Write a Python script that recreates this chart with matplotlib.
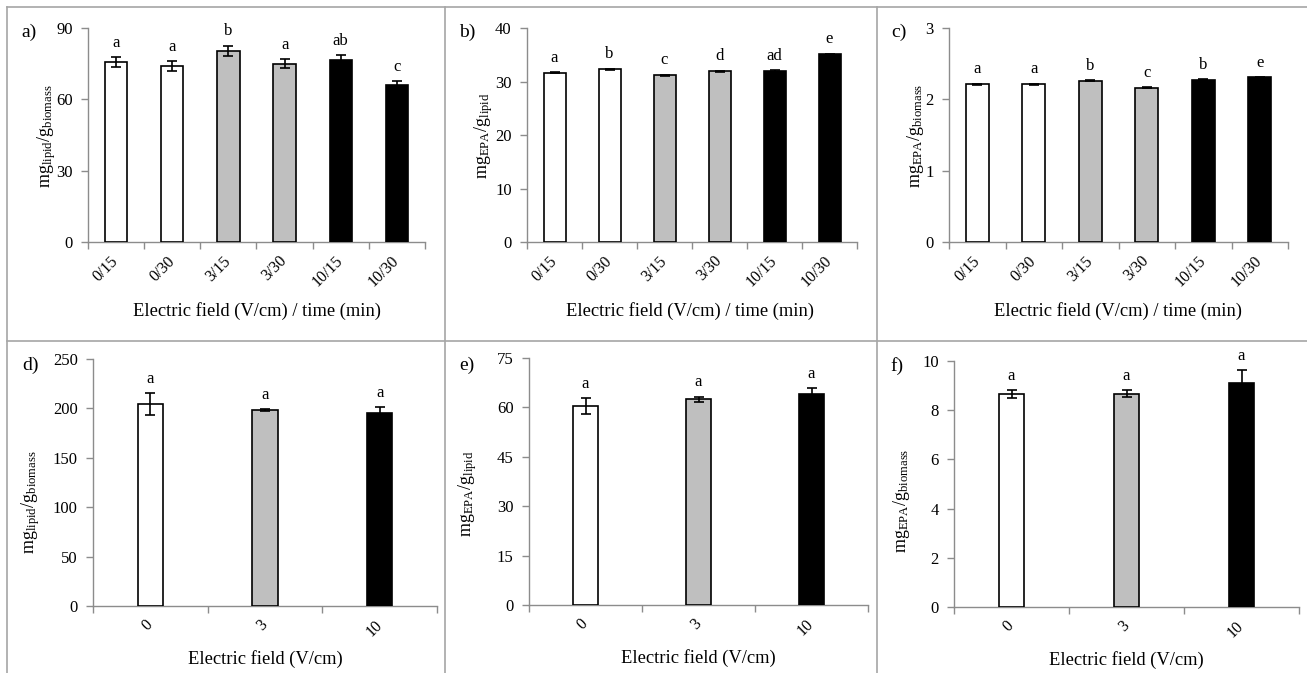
import matplotlib
matplotlib.use("Agg")
import matplotlib.pyplot as plt
from matplotlib.lines import Line2D
import numpy as np

W, H = 1307, 673
plt.rcParams['font.family'] = ['Liberation Serif', 'DejaVu Serif']
plt.rcParams['mathtext.fontset'] = 'custom'
plt.rcParams['mathtext.rm'] = 'Liberation Serif'
plt.rcParams['mathtext.it'] = 'Liberation Serif:italic'

# ---------------- data ----------------
time_cats = ["0/15", "0/30", "3/15", "3/30", "10/15", "10/30"]
field_cats = ["0", "3", "10"]

lipid_time = [75.8, 74.0, 80.5, 75.0, 76.7, 66.0]
lipid_time_err = [2.0, 2.0, 2.1, 2.0, 1.8, 1.6]
lipid_time_let = ["a", "a", "b", "a", "ab", "c"]

epa_lipid_time = [31.6, 32.3, 31.2, 31.9, 31.9, 35.1]
epa_lipid_time_err = [0.1, 0.1, 0.1, 0.15, 0.2, 0.1]
epa_lipid_time_let = ["a", "b", "c", "d", "ad", "e"]

epa_bio_time = [2.21, 2.21, 2.26, 2.165, 2.275, 2.31]
epa_bio_time_err = [0.01, 0.01, 0.005, 0.01, 0.01, 0.005]
epa_bio_time_let = ["a", "a", "b", "c", "b", "e"]

lipid_field = [204.5, 198.0, 195.5]
lipid_field_err = [11.0, 1.0, 6.0]
lipid_field_let = ["a", "a", "a"]

epa_lipid_field = [60.5, 62.5, 64.0]
epa_lipid_field_err = [2.4, 0.8, 1.9]
epa_lipid_field_let = ["a", "a", "a"]

epa_bio_field = [8.67, 8.67, 9.11]
epa_bio_field_err = [0.16, 0.15, 0.51]
epa_bio_field_let = ["a", "a", "a"]

time_colors = ["white", "white", "#BFBFBF", "#BFBFBF", "black", "black"]
field_colors = ["white", "#BFBFBF", "black"]

AX_GRAY = "#8C8C8C"
BORDER = "#A6A6A6"

fig = plt.figure(figsize=(W / 100, H / 100), dpi=100)


def frac(x, y):
    return x / W, 1 - y / H


def rect(x0, y0, x1, y1):
    return [x0 / W, 1 - y1 / H, (x1 - x0) / W, (y1 - y0) / H]


ylab_lipid_bio = r"mg$_{\mathrm{lipid}}$/g$_{\mathrm{biomass}}$"
ylab_epa_lipid = r"mg$_{\mathrm{EPA}}$/g$_{\mathrm{lipid}}$"
ylab_epa_bio = r"mg$_{\mathrm{EPA}}$/g$_{\mathrm{biomass}}$"

panels = [
    ((88, 28, 425, 242), time_cats, lipid_time, lipid_time_err, lipid_time_let, time_colors,
     90, 30, "a)", (29, 32), ylab_lipid_bio, (47, 136), "Electric field (V/cm) / time (min)", (257, 311), 0.40),
    ((527, 28, 857, 242), time_cats, epa_lipid_time, epa_lipid_time_err, epa_lipid_time_let, time_colors,
     40, 10, "b)", (467, 32), ylab_epa_lipid, (484, 136), "Electric field (V/cm) / time (min)", (690, 311), 0.40),
    ((949, 28, 1288, 242), time_cats, epa_bio_time, epa_bio_time_err, epa_bio_time_let, time_colors,
     3, 1, "c)", (899, 32), ylab_epa_bio, (916, 136), "Electric field (V/cm) / time (min)", (1118, 311), 0.40),
    ((93, 359, 437, 606), field_cats, lipid_field, lipid_field_err, lipid_field_let, field_colors,
     250, 50, "d)", (30, 365), ylab_lipid_bio, (31, 502), "Electric field (V/cm)", (265, 659), 0.22),
    ((529, 358, 868, 605), field_cats, epa_lipid_field, epa_lipid_field_err, epa_lipid_field_let, field_colors,
     75, 15, "e)", (467, 365), ylab_epa_lipid, (468, 494), "Electric field (V/cm)", (698, 658), 0.22),
    ((954, 361, 1299, 607), field_cats, epa_bio_field, epa_bio_field_err, epa_bio_field_let, field_colors,
     10, 2, "f)", (897, 366), ylab_epa_bio, (901, 501), "Electric field (V/cm)", (1126, 660), 0.22),
]

for (r, cats, vals, errs, lets, cols, ymax, ystep, tag, tagpos, ylab, ylabpos, xlab, xlabpos, bw) in panels:
    ax = fig.add_axes(rect(*r))
    n = len(cats)
    x = np.arange(n)
    ax.bar(x, vals, width=bw, color=cols, edgecolor="black", linewidth=1.2, zorder=2)
    ax.errorbar(x, vals, yerr=errs, fmt="none", ecolor="black", elinewidth=1.2,
                capsize=3.3, capthick=1.2, zorder=3)
    for xi, v, e, l in zip(x, vals, errs, lets):
        ax.annotate(l, (xi, v + e), xytext=(0, 4.5), textcoords="offset points",
                    ha="center", va="bottom", fontsize=12)
    ax.set_xlim(-0.5, n - 0.5)
    ax.set_ylim(0, ymax)
    ax.set_yticks(np.arange(0, ymax + ystep / 2, ystep))
    ax.set_xticks(x)
    ax.set_xticklabels(cats, rotation=45, ha="right", va="center", rotation_mode="anchor",
                       fontsize=11.5)
    ax.set_xticks(np.arange(-0.5, n, 1.0), minor=True)
    ax.tick_params(axis="x", which="major", length=0, pad=12)
    ax.tick_params(axis="x", which="minor", length=5, width=1, color=AX_GRAY, direction="out")
    ax.tick_params(axis="y", length=5, width=1, color=AX_GRAY, direction="out", labelsize=12, pad=6)
    for s in ("top", "right"):
        ax.spines[s].set_visible(False)
    for s in ("left", "bottom"):
        ax.spines[s].set_color(AX_GRAY)
        ax.spines[s].set_linewidth(1)
        ax.spines[s].set_zorder(1)
    ax.patch.set_visible(False)

    ax.set_ylabel(ylab, fontsize=13)
    ax.yaxis.set_label_coords(*frac(*ylabpos), transform=fig.transFigure)
    ax.yaxis.label.set_va("center")
    ax.yaxis.label.set_ha("center")
    ax.yaxis.label.set_rotation_mode("anchor")

    ax.set_xlabel(xlab, fontsize=13.3)
    ax.xaxis.set_label_coords(*frac(*xlabpos), transform=fig.transFigure)
    ax.xaxis.label.set_va("center")

    fig.text(*frac(*tagpos), tag, ha="center", va="center", fontsize=14)

# table borders
border_lines = [
    ((7, 1307), (7, 7)),
    ((7, 7), (7, 673)),
    ((445, 445), (7, 673)),
    ((877, 877), (7, 673)),
    ((7, 1307), (341, 341)),
]
for xs, ys in border_lines:
    fig.add_artist(Line2D([xx / W for xx in xs], [1 - yy / H for yy in ys],
                          transform=fig.transFigure, color=BORDER, linewidth=1.2))

fig.savefig("out.png", dpi=100)
